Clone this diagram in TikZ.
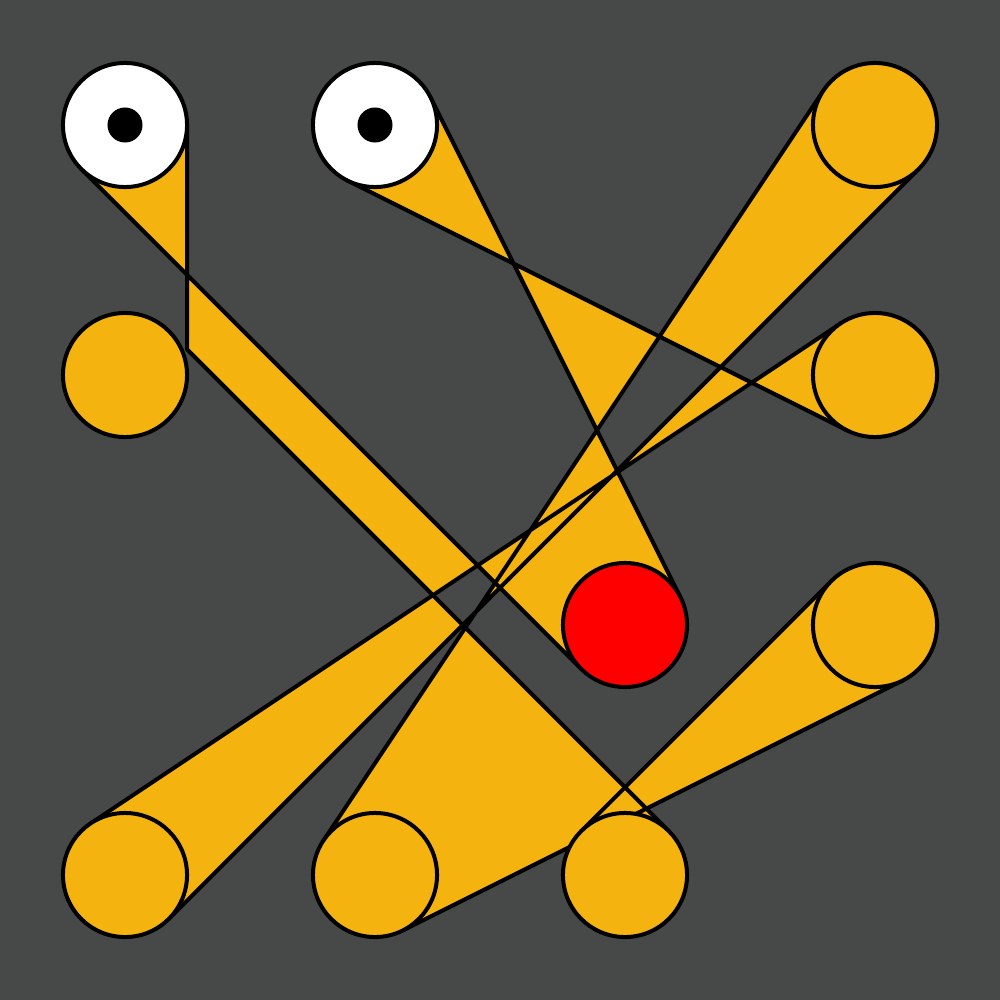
\documentclass[tikz,border=0pt]{standalone}
\begin{document}
\definecolor{bgray}{HTML}{474848}
\definecolor{beltorange}{HTML}{F5B30F}
\tikzset{
  belt/.style={fill=beltorange, draw=black, nonzero rule, line join=round},
  pulley/.style={circle, draw=black, fill=beltorange, minimum size=1.24cm, inner sep=0pt, outer sep=0pt},
  eye/.style={pulley, fill=white},
  goal/.style={pulley, fill=red},
  pupil/.style={circle, fill=black, draw=none, minimum size=0.35cm, inner sep=0pt},
}
\begin{tikzpicture}[x=0.01cm, y=-0.01cm, line width=0.04cm]
\fill[bgray] (0,0) rectangle (1000,1000);
\useasboundingbox (0,0) rectangle (1000,1000);
% belt: closed loop of tangent segments between the pulleys
\draw[belt]
  (81.16,168.84) -- (581.16,668.84)   % W1 -> red
  -- (680.45,597.27) -- (430.45,97.27) % red -> W2
  -- (347.27,180.45) -- (847.27,430.45) % W2 -> R2
  -- (840.61,323.41) -- (90.61,823.41)  % R2 -> B1
  -- (168.84,918.84) -- (918.84,168.84) % B1 -> R1
  -- (823.41,90.61) -- (323.41,840.61)  % R1 -> B2
  -- (402.73,930.45) -- (902.73,680.45) % B2 -> R3
  -- (831.16,581.16) -- (581.16,831.16) % R3 -> B3
  -- (668.84,831.16) -- (187,349.32)    % B3 -> C4
  -- (187,125) -- cycle;                 % C4 -> W1
% pulleys
\node[eye]    (w1) at (125,125) {};
\node[eye]    (w2) at (375,125) {};
\node[pulley] (r1) at (875,125) {};
\node[pulley] (c4) at (125,375) {};
\node[pulley] (r2) at (875,375) {};
\node[goal]   (rd) at (625,625) {};
\node[pulley] (r3) at (875,625) {};
\node[pulley] (b1) at (125,875) {};
\node[pulley] (b2) at (375,875) {};
\node[pulley] (b3) at (625,875) {};
\node[pupil]  (p1) at (w1.center) {};
\node[pupil]  (p2) at (w2.center) {};
\end{tikzpicture}
\end{document}
